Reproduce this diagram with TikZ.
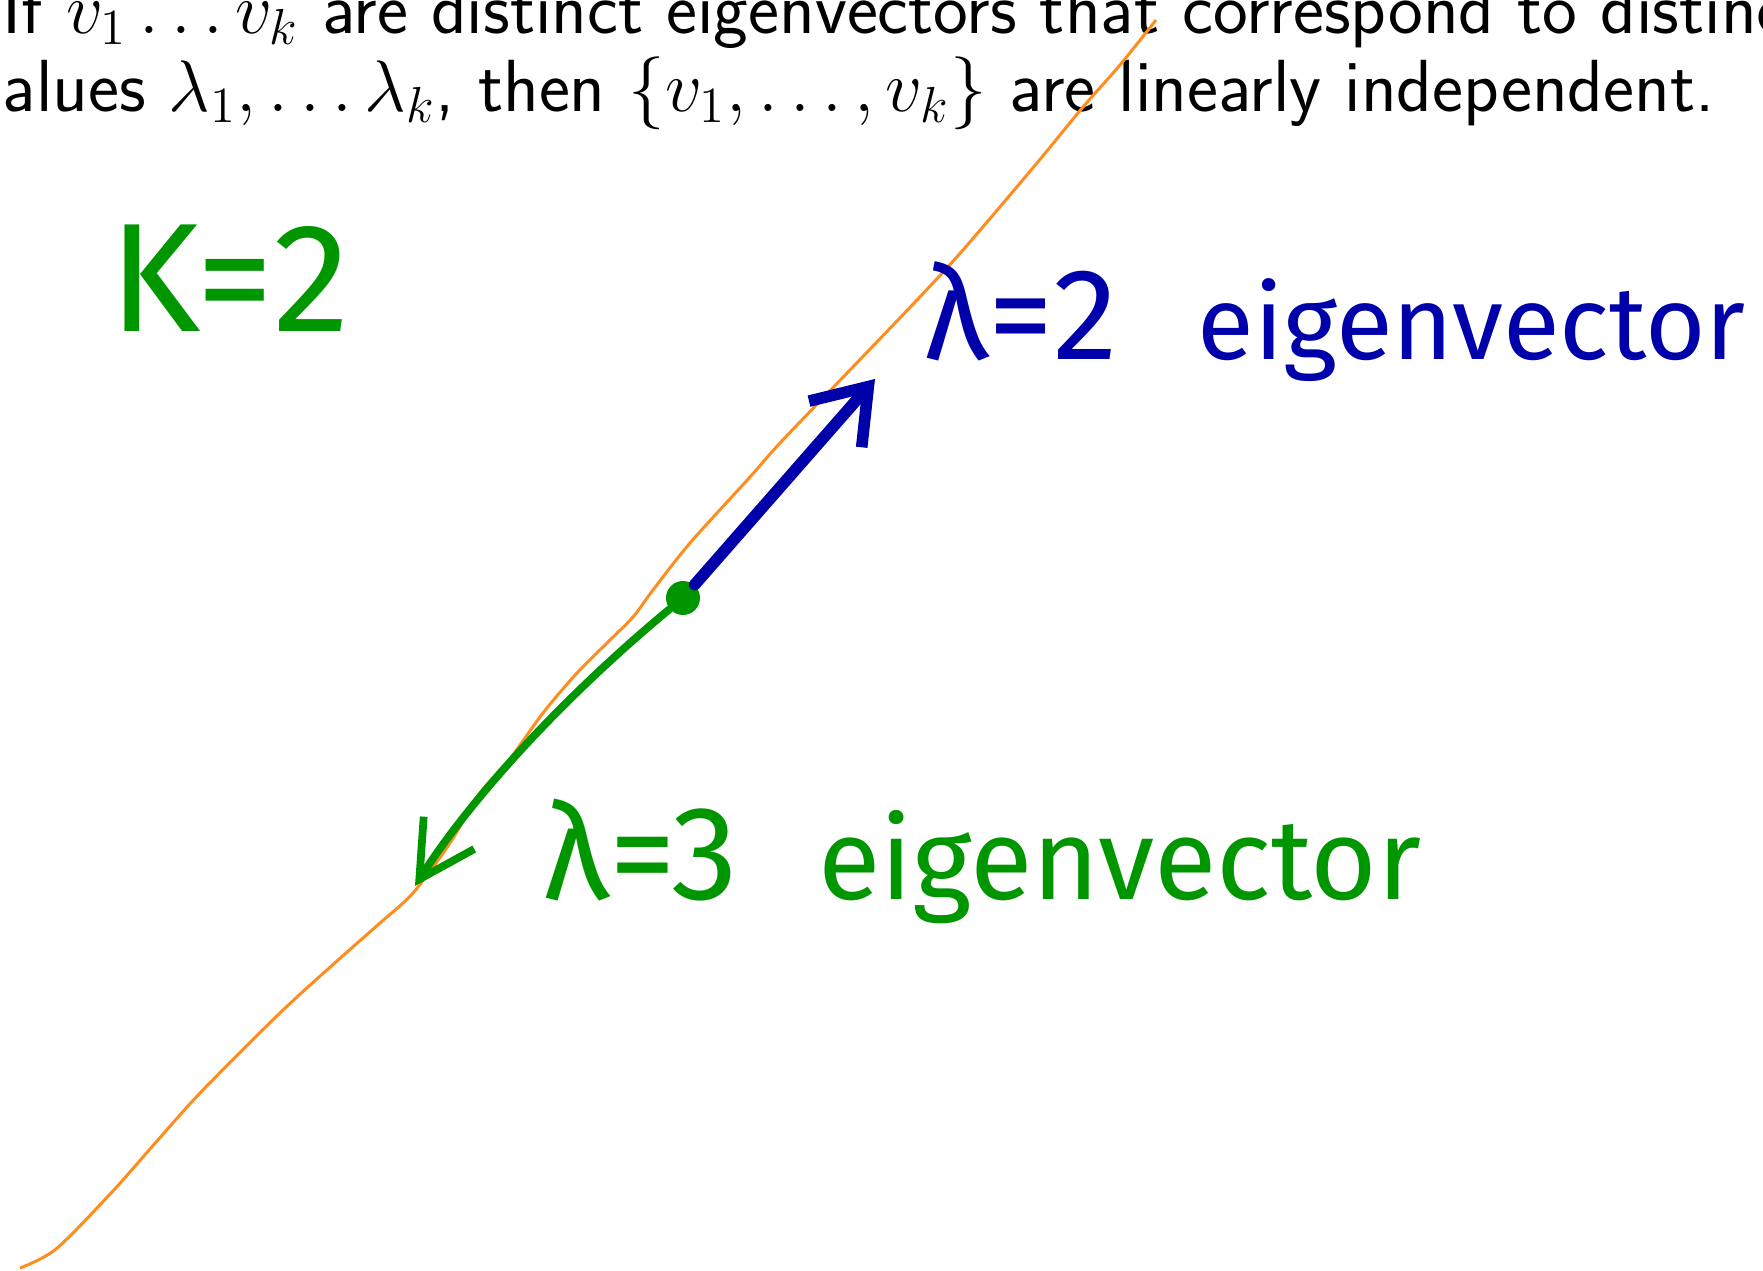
\documentclass[tikz,border=0pt]{standalone}
\usepackage{fontspec}
\usepackage{amsmath}
\newfontfamily\handfont{Fira Sans}
\usetikzlibrary{arrows.meta}

\definecolor{inkgreen}{RGB}{0,150,0}
\definecolor{inkblue}{RGB}{0,0,170}
\definecolor{inkorange}{RGB}{255,140,30}

\tikzset{
  slidetext/.style={anchor=base west, inner sep=0pt, align=left, font=\sffamily\fontsize{21}{22.2}\selectfont},
  hand/.style={anchor=base west, inner sep=0pt},
}

\begin{document}
\begin{tikzpicture}[x=0.01cm, y=-0.01cm]

  % Frame of the slide (pixel units, y runs downwards)
  \useasboundingbox (0,0) rectangle (1763,1271);

  % Statement at the top (anchored on its last line)
  \node[slidetext] (statement) at (2,112) {If $v_1 \ldots v_k$ are distinct eigenvectors that correspond to distinct\\
    alues $\lambda_1, \ldots \lambda_k$, then $\{v_1, \ldots, v_k\}$ are linearly independent.};

  % The eigenspace line, drawn by hand
  \draw[inkorange, line width=0.85pt] plot[smooth] coordinates {
    (20,1268) (56,1249) (112,1192) (157,1141) (202,1091) (281,1012)
    (337,961) (380,923) (413,893) (450,843) (480,793) (507,763)
    (543,713) (577,673) (607,643) (633,617) (653,590) (690,543)
    (750,477) (780,443) (850,370) (917,300) (963,250)
    (1037,163) (1083,107) (1120,65) (1156,20)};

  % Common starting point
  \node[circle, fill=inkgreen, minimum size=0.34cm, inner sep=0pt] (origin) at (683,598) {};

  \coordinate (tiptwo) at (875,379);
  \coordinate (tipthree) at (415,886);

  % The two eigenvectors
  \draw[inkblue, line width=3.3pt, line cap=round,
        -{Straight Barb[length=0.5cm, width=0.7cm]}] (origin) -- (tiptwo);
  \draw[inkgreen, line width=2.2pt, line cap=round,
        -{Straight Barb[length=0.55cm, width=0.6cm]}] (origin) .. controls (560,700) and (470,800) .. (tipthree);

  % Handwritten labels
  \node[hand, inkgreen, font=\handfont\fontsize{44}{44}\selectfont] (kval) at (109,332) {K=2};
  \node[hand, inkblue, font=\handfont\fontsize{29.5}{30}\selectfont] (labtwo) at (924,360)
    {{\fontsize{37}{37}\selectfont λ=2}\hspace{0.8cm}eigenvector};
  \node[hand, inkgreen, font=\handfont\fontsize{32.5}{33}\selectfont] (labthree) at (543,900)
    {{\fontsize{38}{38}\selectfont λ=3}\hspace{0.8cm}eigenvector};

\end{tikzpicture}
\end{document}
